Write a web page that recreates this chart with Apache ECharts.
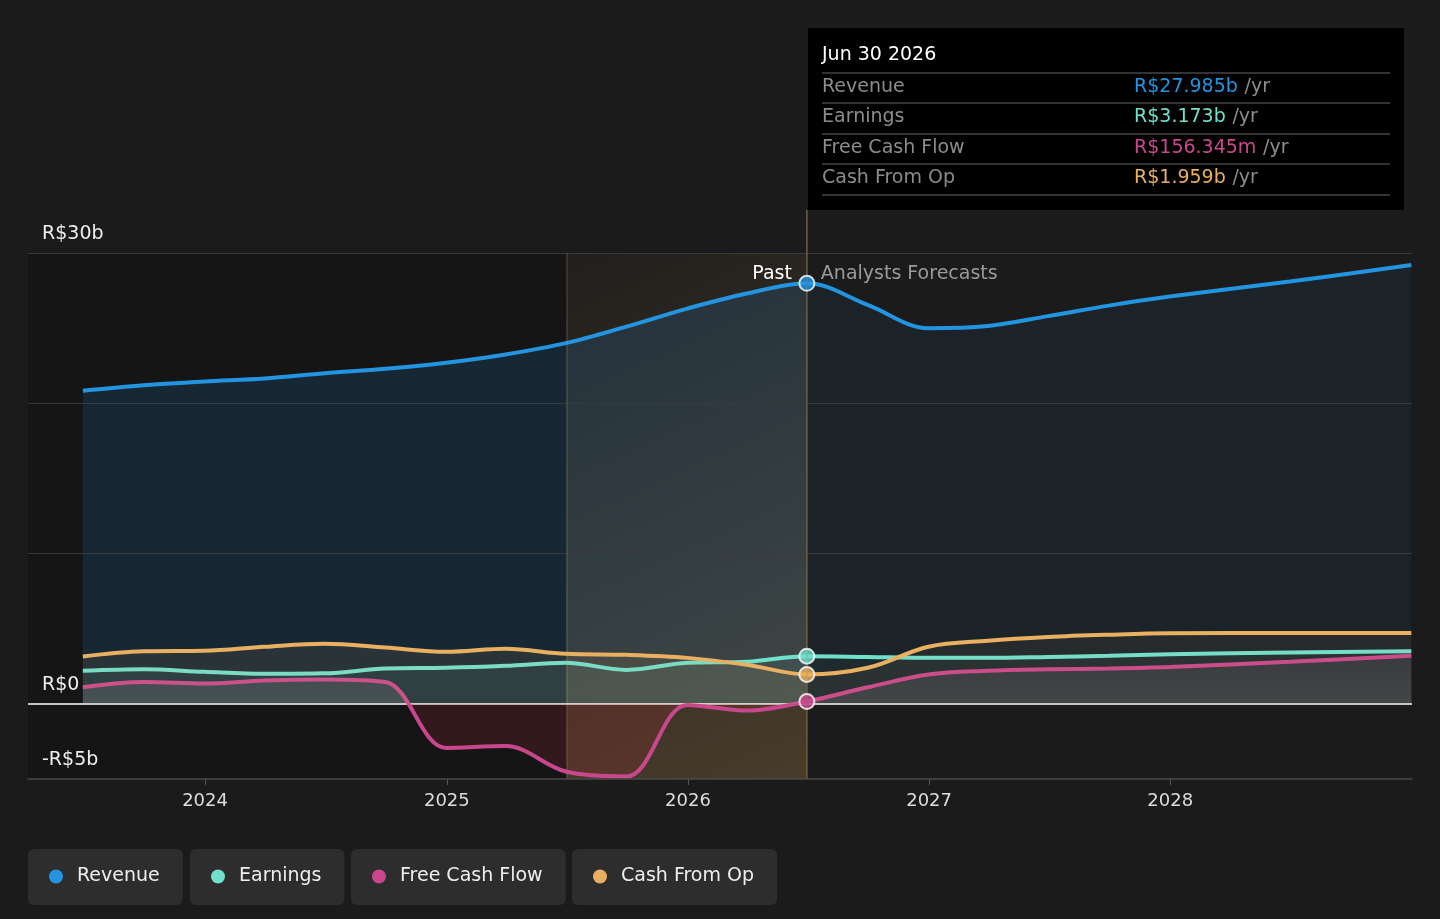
<!DOCTYPE html>
<html>
<head>
<meta charset="utf-8">
<script src="https://cdn.jsdelivr.net/npm/echarts@6/dist/echarts.min.js"></script>
<style>
  html, body { margin: 0; padding: 0; background: #1b1b1b; }
  #container { width: 1440px; height: 919px; }
</style>
</head>
<body>
<div id="container"></div>
<script>
// quarter ends, past then analyst forecasts
var dates = ['2023-06-30','2023-09-30','2023-12-31','2024-03-31','2024-06-30','2024-09-30','2024-12-31',
  '2025-03-31','2025-06-30','2025-09-30','2025-12-31','2026-03-31','2026-06-30','2026-09-30','2026-12-31',
  '2027-03-31','2027-06-30','2027-09-30','2027-12-31','2028-06-30','2028-12-31'];
// R$ billions
var revenue  = [20.83, 21.2, 21.45, 21.65, 22.0, 22.3, 22.7, 23.25, 24.0, 25.1, 26.3, 27.3, 27.985, 26.55, 25.0, 25.15, 25.8, 26.5, 27.1, 28.1, 29.2];
var earnings = [2.2, 2.3, 2.13, 2.0, 2.03, 2.35, 2.4, 2.53, 2.73, 2.26, 2.73, 2.8, 3.173, 3.12, 3.06, 3.06, 3.12, 3.2, 3.3, 3.42, 3.5];
var fcf      = [1.1, 1.45, 1.35, 1.55, 1.62, 1.45, -2.93, -2.8, -4.5, -4.83, -0.07, -0.45, 0.156345, 1.1, 1.95, 2.2, 2.3, 2.35, 2.45, 2.8, 3.2];
var cfo      = [3.15, 3.5, 3.53, 3.8, 4.0, 3.75, 3.46, 3.66, 3.33, 3.26, 3.06, 2.6, 1.959, 2.4, 3.8, 4.2, 4.45, 4.6, 4.7, 4.72, 4.72];

var seriesNames = ['Revenue', 'Earnings', 'Free Cash Flow', 'Cash From Op'];
var seriesColors = ['#2394e0', '#6fe0cc', '#c9488d', '#e8b060'];
var nowDate = '2026-06-30';
var nowLabel = 'Jun 30 2026';
var highlightStart = '2025-07-01';
var xMin = '2023-04-08';
var xMax = '2029-01-01';
var yearTicks = ['2024-01-01','2025-01-01','2026-01-01','2027-01-01','2028-01-01'];
var yLabelValues = [-5, 0, 30];
var gridValues = [10, 20, 30];

var FONT = 'DejaVu Sans';
var nowIdx = dates.indexOf(nowDate);
var allValues = [revenue, earnings, fcf, cfo];

function ts(d) { return +new Date(d + 'T00:00:00Z'); }
function pairs(vals) {
  var out = [];
  for (var i = 0; i < dates.length; i++) out.push([ts(dates[i]), vals[i]]);
  return out;
}
function money(v) {
  if (Math.abs(v) < 1) return 'R$' + (v * 1000).toFixed(3) + 'm';
  return 'R$' + v.toFixed(3) + 'b';
}
function yLabel(v) {
  if (v === 0) return 'R$0';
  return (v < 0 ? '-' : '') + 'R$' + Math.abs(v) + 'b';
}

var pastFrac = (ts(nowDate) - ts(dates[0])) / (ts(dates[dates.length - 1]) - ts(dates[0]));
function splitFill(rgb, a1, a2) {
  return new echarts.graphic.LinearGradient(0, 0, 1, 0, [
    {offset: 0, color: 'rgba(' + rgb + ',' + a1 + ')'},
    {offset: pastFrac, color: 'rgba(' + rgb + ',' + a1 + ')'},
    {offset: Math.min(1, pastFrac + 0.001), color: 'rgba(' + rgb + ',' + a2 + ')'},
    {offset: 1, color: 'rgba(' + rgb + ',' + a2 + ')'}
  ]);
}
var fcfMax = Math.max.apply(null, fcf), fcfMin = Math.min.apply(null, fcf);
var zeroFrac = fcfMax / (fcfMax - fcfMin);

var fills = [
  splitFill('33,150,243', 0.2, 0.09),
  splitFill('111,224,204', 0.1, 0.06),
  new echarts.graphic.LinearGradient(0, 0, 0, 1, [
    {offset: 0, color: 'rgba(200,150,180,0.14)'},
    {offset: zeroFrac, color: 'rgba(220,200,210,0.2)'},
    {offset: zeroFrac + 0.001, color: 'rgba(170,40,50,0.28)'},
    {offset: 1, color: 'rgba(170,40,50,0.28)'}
  ]),
  splitFill('232,176,96', 0.13, 0.08)
];

var series = [];
// darker past background, grid lines
series.push({
  name: 'bgPast', type: 'line', data: [], z: 0, silent: true,
  markArea: {
    silent: true,
    itemStyle: {color: '#151515'},
    data: [[{xAxis: ts(xMin)}, {xAxis: ts(highlightStart)}]]
  },
  markLine: {
    silent: true, symbol: 'none', label: {show: false},
    lineStyle: {color: '#3a3a3a', width: 1, type: 'solid'},
    data: gridValues.map(function (v) { return {yAxis: v}; })
  }
});

for (var i = 0; i < seriesNames.length; i++) {
  series.push({
    name: seriesNames[i],
    type: 'line',
    data: pairs(allValues[i]),
    smooth: 0.35,
    showSymbol: false,
    z: 3 + i,
    lineStyle: {width: 4, color: seriesColors[i]},
    itemStyle: {color: seriesColors[i]},
    areaStyle: {color: fills[i]}
  });
}

// last year highlight, laid over the fills
series.push({
  name: 'bgHi', type: 'line', data: [], z: 8, silent: true,
  markArea: {
    silent: true,
    itemStyle: {
      color: new echarts.graphic.LinearGradient(0, 0, 1, 1, [
        {offset: 0, color: 'rgba(232,176,96,0.03)'},
        {offset: 1, color: 'rgba(232,176,96,0.22)'}
      ])
    },
    data: [[{xAxis: ts(highlightStart)}, {xAxis: ts(nowDate)}]]
  },
  markLine: {
    silent: true, symbol: 'none', label: {show: false},
    lineStyle: {color: 'rgba(200,170,110,0.22)', width: 1.5, type: 'solid'},
    data: [{xAxis: ts(highlightStart)}]
  }
});

// zero line
series.push({
  name: 'zero', type: 'line', data: [], z: 9, silent: true,
  markLine: {
    silent: true, symbol: 'none', label: {show: false},
    lineStyle: {color: '#ffffff', width: 1.5, type: 'solid'},
    data: [{yAxis: 0}]
  }
});

// current markers
series.push({
  name: 'now', type: 'scatter', z: 12, symbolSize: 15,
  itemStyle: {borderColor: '#ffffff', borderWidth: 2},
  data: allValues.map(function (vals, k) {
    return {value: [ts(nowDate), vals[nowIdx]], itemStyle: {color: seriesColors[k]}};
  })
});

var legendLeft = [28, 190, 351, 572];
var legends = seriesNames.map(function (n, k) {
  return {
    data: [n], left: legendLeft[k], top: 849,
    backgroundColor: '#2d2d2d', borderRadius: 6,
    padding: [18, 23, 19, 21],
    icon: 'circle', itemWidth: 14, itemHeight: 14, selectedMode: false,
    textStyle: {color: '#eeeeee', fontSize: 19, fontFamily: FONT, padding: [0, 0, 0, 9]}
  };
});

var tipRows = seriesNames.map(function (n, k) {
  return {name: n, value: money(allValues[k][nowIdx]), color: seriesColors[k]};
});

var graphics = [
  {type: 'rect', shape: {x: 808, y: 28, width: 596, height: 182}, style: {fill: '#000000'}, z: 20},
  {type: 'text', x: 822, y: 55, style: {text: nowLabel, fill: '#ffffff', font: '19px ' + FONT, verticalAlign: 'middle'}, z: 21}
];
var rowY = [87, 117, 148, 178];
var lineY = [73, 103, 134, 164, 195];
lineY.forEach(function (y) {
  graphics.push({type: 'line', shape: {x1: 822, y1: y, x2: 1390, y2: y}, style: {stroke: '#444444', lineWidth: 1.5}, z: 21});
});
tipRows.forEach(function (r, k) {
  graphics.push({type: 'text', x: 822, y: rowY[k], style: {text: r.name, fill: '#8c8c8c', font: '19px ' + FONT, verticalAlign: 'middle'}, z: 21});
  graphics.push({type: 'text', x: 1134, y: rowY[k], z: 21, style: {
    text: '{v|' + r.value + '}  {u|/yr}', verticalAlign: 'middle',
    rich: {
      v: {fill: r.color, font: '19px ' + FONT},
      u: {fill: '#8c8c8c', font: '19px ' + FONT}
    }
  }});
});

var dom = document.getElementById('container');
var myChart = echarts.init(dom);
var option = {
  backgroundColor: '#1b1b1b',
  animation: false,
  textStyle: {fontFamily: FONT},
  grid: {left: 28, right: 28, top: 253, bottom: 140},
  legend: legends,
  xAxis: {
    type: 'value', min: ts(xMin), max: ts(xMax), z: 10,
    axisLine: {onZero: false, lineStyle: {color: '#4a4a4a', width: 1.5}},
    axisTick: {show: true, length: 6, customValues: yearTicks.map(ts), lineStyle: {color: '#555555'}},
    axisLabel: {
      customValues: yearTicks.map(ts), color: '#dddddd', fontSize: 18, margin: 13, fontFamily: FONT,
      formatter: function (v) { return String(new Date(v).getUTCFullYear()); }
    },
    splitLine: {show: false}
  },
  yAxis: {
    type: 'value', min: -5, max: 30, z: 10,
    splitLine: {show: false}, axisLine: {show: false}, axisTick: {show: false},
    axisLabel: {
      inside: true, customValues: yLabelValues, formatter: yLabel,
      color: '#eeeeee', fontSize: 19, fontFamily: FONT, margin: 14,
      verticalAlign: 'bottom', padding: [0, 0, 9, 0]
    }
  },
  series: series,
  graphic: graphics
};
myChart.setOption(option, true);

// divider at the present and its labels
var nowX = myChart.convertToPixel({xAxisIndex: 0}, ts(nowDate));
myChart.setOption({
  graphic: graphics.concat([
    {type: 'line', shape: {x1: nowX, y1: 210, x2: nowX, y2: 779}, style: {stroke: '#6e5f3e', lineWidth: 1.5}, z: 9},
    {type: 'text', x: nowX - 15, y: 274, style: {text: 'Past', fill: '#ffffff', font: '19px ' + FONT, align: 'right', verticalAlign: 'middle'}, z: 9},
    {type: 'text', x: nowX + 14, y: 274, style: {text: 'Analysts Forecasts', fill: '#9a9a9a', font: '19px ' + FONT, verticalAlign: 'middle'}, z: 9}
  ])
});
</script>
</body>
</html>
